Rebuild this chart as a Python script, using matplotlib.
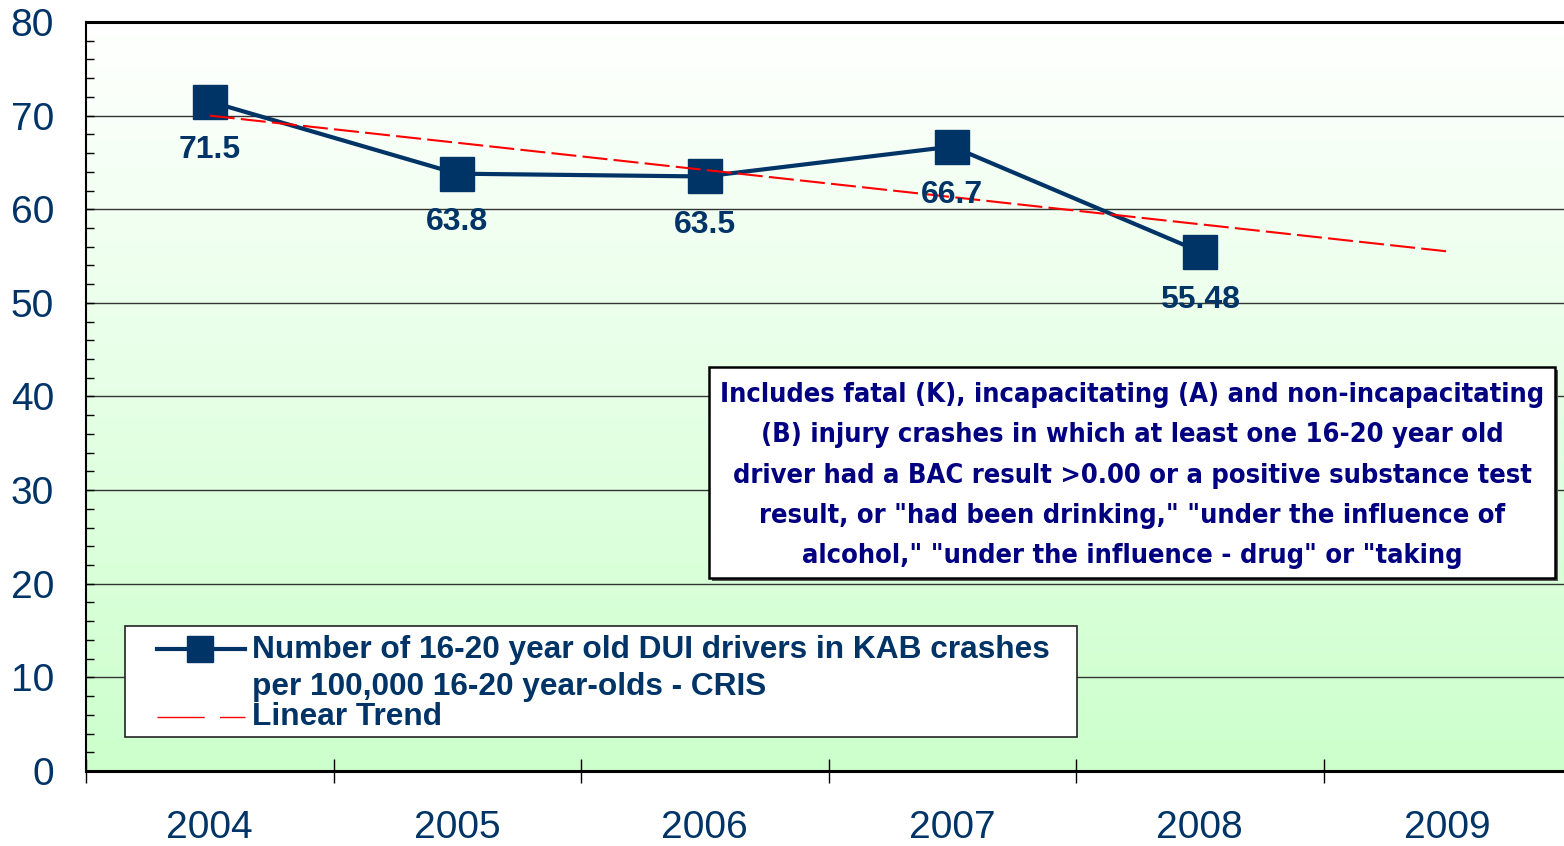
import numpy as np
import matplotlib
matplotlib.use("Agg")
import matplotlib.pyplot as plt
from matplotlib.patches import Rectangle
from matplotlib.lines import Line2D
from matplotlib.colors import LinearSegmentedColormap

# ---- data ----
years = ['2004', '2005', '2006', '2007', '2008', '2009']
values = [71.5, 63.8, 63.5, 66.7, 55.48]
value_labels = ['71.5', '63.8', '63.5', '66.7', '55.48']
trend_x = [0, 5]
trend_y = [70.0, 55.5]
series_name = "Number of 16-20 year old DUI drivers in KAB crashes\nper 100,000 16-20 year-olds - CRIS"
trend_name = "Linear Trend"
note_lines = [
    "Includes fatal (K), incapacitating (A) and non-incapacitating",
    "(B) injury crashes in which at least one 16-20 year old",
    "driver had a BAC result >0.00 or a positive substance test",
    "result, or \"had been drinking,\" \"under the influence of",
    "alcohol,\" \"under the influence - drug\" or \"taking",
]
yticks = [0, 10, 20, 30, 40, 50, 60, 70, 80]

NAVY = '#003366'
NOTE = '#000080'
W, H = 1564, 846
fig = plt.figure(figsize=(W / 100, H / 100), dpi=100)
ax_l, ax_r, ax_t, ax_b = 86, 1571, 22, 771
ax = fig.add_axes([ax_l / W, (H - ax_b) / H, (ax_r - ax_l) / W, (ax_b - ax_t) / H])
ax.set_xlim(-0.5, 5.5)
ax.set_ylim(0, 80)

# gradient background
cmap = LinearSegmentedColormap.from_list('g', ['#ccffcc', '#ffffff'])
grad = np.linspace(0, 1, 256).reshape(-1, 1)
ax.imshow(grad, extent=[-0.5, 5.5, 0, 80], origin='lower', aspect='auto', cmap=cmap, zorder=0)

# gridlines
for yv in yticks[1:-1]:
    ax.axhline(yv, color='#333333', lw=1.0, zorder=1)

ax.spines['right'].set_visible(False)
ax.spines['top'].set_linewidth(2.2)
ax.spines['left'].set_linewidth(1.5)
ax.spines['bottom'].set_linewidth(2.2)

# series
xs = np.arange(len(values))
ax.plot(xs, values, color=NAVY, lw=3, marker='s', ms=24, mfc=NAVY, mec=NAVY, zorder=4)
ax.plot(trend_x, trend_y, color='red', lw=1.5, ls=(0, (12, 3)), zorder=5)

for x, v, lab in zip(xs, values, value_labels):
    ax.annotate(lab, (x, v), xytext=(0, -35), textcoords='offset points', ha='center', va='center',
                fontsize=23, fontweight='bold', color=NAVY, family='Liberation Sans', zorder=6)

# ticks
ax.set_yticks(yticks)
ax.set_yticklabels([str(t) for t in yticks], fontsize=28, color=NAVY, family='Liberation Sans')
ax.set_yticks(np.arange(0, 81, 2), minor=True)
ax.tick_params(axis='y', which='both', direction='in', length=6, width=1, pad=23, colors='black', labelcolor=NAVY)
ax.set_xticks(xs.tolist() + [5])
ax.set_xticklabels(years, fontsize=28, color=NAVY, family='Liberation Sans')
ax.tick_params(axis='x', which='major', length=0, pad=28, labelcolor=NAVY)
ax.set_xticks(np.arange(-0.5, 6, 1), minor=True)
ax.tick_params(axis='x', which='minor', direction='inout', length=17, width=1, colors='black')

# helpers for pixel -> axes fraction
def fx(px):
    return (px - ax_l) / (ax_r - ax_l)

def fy(py):
    return (ax_b - py) / (ax_b - ax_t)

# legend box
ax.add_patch(Rectangle((fx(125), fy(737)), fx(1077) - fx(125), fy(626) - fy(737), transform=ax.transAxes,
                       facecolor='white', edgecolor='#222222', lw=1.2, zorder=7))
ax.add_line(Line2D([fx(157), fx(245)], [fy(649), fy(649)], transform=ax.transAxes, color=NAVY, lw=3, zorder=8))
ax.add_line(Line2D([fx(200)], [fy(649)], transform=ax.transAxes, marker='s', ms=19, color=NAVY, zorder=8))
ax.add_line(Line2D([fx(157), fx(245)], [fy(717), fy(717)], transform=ax.transAxes, color='red', lw=1,
                   ls=(0, (34, 11)), zorder=8))
l1, l2 = series_name.split('\n')
for txt, py in [(l1, 650), (l2, 687), (trend_name, 717)]:
    ax.text(fx(252), fy(py), txt, transform=ax.transAxes, ha='left', va='center', fontsize=22.8,
            fontweight='bold', color=NAVY, family='Liberation Sans', zorder=9)

# note box
ax.add_patch(Rectangle((fx(712), fy(581)), fx(1558) - fx(712), fy(370) - fy(581), transform=ax.transAxes,
                       facecolor='#555555', edgecolor='none', zorder=7))
ax.add_patch(Rectangle((fx(709), fy(578)), fx(1555) - fx(709), fy(367) - fy(578), transform=ax.transAxes,
                       facecolor='white', edgecolor='black', lw=1.8, zorder=7))
for i, line in enumerate(note_lines):
    ax.text(fx(1132), fy(395 + i * 40.3), line, transform=ax.transAxes, ha='center', va='center',
            fontsize=19.5, fontweight='bold', fontstretch='condensed', color=NOTE,
            family='DejaVu Sans', zorder=9)

fig.savefig('out.png', dpi=100)
